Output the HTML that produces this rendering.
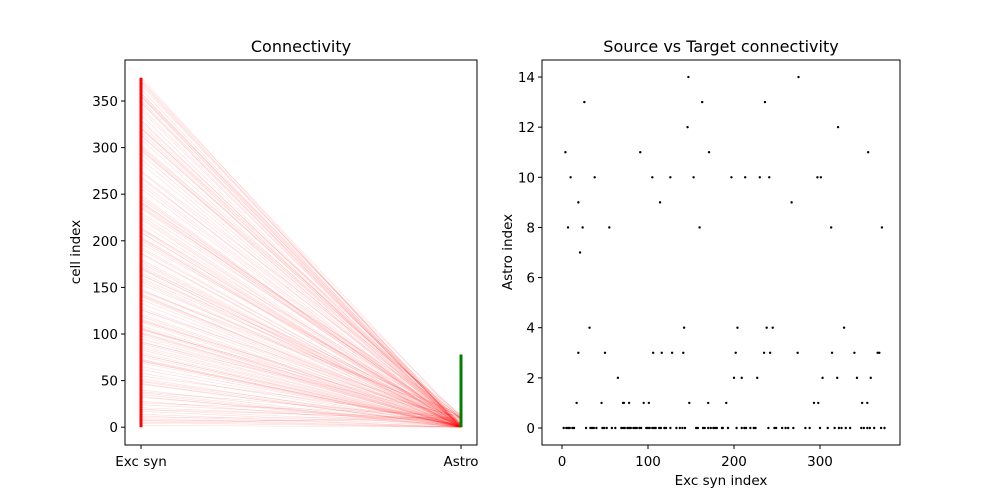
<!DOCTYPE html>
<html><head><meta charset="utf-8">
<style>
html,body{margin:0;padding:0;background:#fff;}
svg{display:block;font-family:"DejaVu Sans","Liberation Sans",sans-serif;}
</style></head>
<body>
<svg id="fig" width="1000" height="500" viewBox="0 0 1000 500">
  <g id="left"></g>
  <g id="right"></g>
</svg>
<script>
// ---- data ----
const syn0 = [2,5,7,9,12,14,28,33,35,37,40,47,49,52,58,62,69,71,73,76,78,80,83,85,87,90,92,98,100,102,105,107,109,113,115,119,121,126,133,137,140,143,156,158,164,166,170,173,176,178,180,186,187,193,203,209,212,214,219,223,225,240,247,249,256,260,263,269,283,288,300,309,317,322,325,330,335,348,351,355,358,363,371,375];
const syn1 = [17,46,71,72,78,95,101,148,170,191,293,298,349,355];
const syn2 = [65,200,209,227,303,320,343,359];
const syn3 = [19,50,106,116,128,141,202,235,242,274,314,340,367,369];
const syn4 = [32,142,204,238,245,328];
const syn7 = [21];
const syn8 = [7,24,55,160,313,372];
const syn9 = [19,114,267];
const syn10 = [10,38,105,126,153,197,213,230,241,297,301];
const syn11 = [4,91,171,356];
const syn12 = [146,321];
const syn13 = [26,163,236];
const syn14 = [147,275];
const astroLevels = [0,1,2,3,4,7,8,9,10,11,12,13,14];
const synByLevel = [syn0,syn1,syn2,syn3,syn4,syn7,syn8,syn9,syn10,syn11,syn12,syn13,syn14];
const excCount = 376;
const astroCount = 79;
const leftYTicks = [0,50,100,150,200,250,300,350];
const rightXTicks = [0,100,200,300];
const rightYTicks = [0,2,4,6,8,10,12,14];

const NS = "http://www.w3.org/2000/svg";
function mk(tag, attrs, parent){
  const e = document.createElementNS(NS, tag);
  for (const k in attrs) e.setAttribute(k, attrs[k]);
  parent.appendChild(e);
  return e;
}
// ---- left panel ----
const L = document.getElementById('left');
const ly = v => 427.2 - v * 0.932;
const xExc = 141, xAstro = 461;
const linesG = mk('g', {}, L);


astroLevels.forEach((a, i) => {
  synByLevel[i].forEach(s => {
    const ln = mk('line', {x1:xExc, y1:ly(s), x2:xAstro, y2:ly(a), stroke:'#ff0000', 'stroke-opacity':0.15, 'stroke-width':0.6}, linesG);
    
    
  });
});
const exBar = mk('line', {x1:xExc, y1:ly(0), x2:xExc, y2:ly(excCount-1), stroke:'#ff0000', 'stroke-width':3}, L);


const asBar = mk('line', {x1:xAstro, y1:ly(0), x2:xAstro, y2:ly(astroCount-1), stroke:'#008000', 'stroke-width':3}, L);


const lf = mk('rect', {x:125, y:60, width:352, height:385, fill:'none', stroke:'#000', 'stroke-width':1}, L);


leftYTicks.forEach(t => {
  const y = ly(t);
  mk('line', {x1:121, y1:y, x2:125, y2:y, stroke:'#000'}, L);
  const tx = mk('text', {x:118, y:y+5, 'text-anchor':'end', 'font-size':13.5}, L);
  tx.textContent = t;
  
  
});
[[xExc,'Exc syn'],[xAstro,'Astro']].forEach(([x,l]) => {
  mk('line', {x1:x, y1:445, x2:x, y2:449, stroke:'#000'}, L);
  const tx = mk('text', {x:x, y:466, 'text-anchor':'middle', 'font-size':13.5}, L);
  tx.textContent = l;
  
  
});
const lt = mk('text', {x:301, y:52, 'text-anchor':'middle', 'font-size':16}, L);
lt.textContent = 'Connectivity';


const lyl = mk('text', {x:0, y:0, 'text-anchor':'middle', 'font-size':13.5, transform:'translate(80,252) rotate(-90)'}, L);
lyl.textContent = 'cell index';



// ---- right panel ----
const R = document.getElementById('right');
const rx = v => 562 + v * 0.86;
const ry = v => 428 - v * 25.07;
const ptsG = mk('g', {}, R);


astroLevels.forEach((a, i) => {
  synByLevel[i].forEach(s => {
    const c = mk('circle', {cx:rx(s), cy:ry(a), r:1.2, fill:'#000'}, ptsG);
    
    
  });
});
const rf = mk('rect', {x:542, y:60, width:358, height:385, fill:'none', stroke:'#000', 'stroke-width':1}, R);


rightXTicks.forEach(t => {
  const x = rx(t);
  mk('line', {x1:x, y1:445, x2:x, y2:449, stroke:'#000'}, R);
  const tx = mk('text', {x:x, y:466, 'text-anchor':'middle', 'font-size':13.5}, R);
  tx.textContent = t;
  
  
});
rightYTicks.forEach(t => {
  const y = ry(t);
  mk('line', {x1:538, y1:y, x2:542, y2:y, stroke:'#000'}, R);
  const tx = mk('text', {x:535, y:y+5, 'text-anchor':'end', 'font-size':13.5}, R);
  tx.textContent = t;
  
  
});
const rt = mk('text', {x:721, y:52, 'text-anchor':'middle', 'font-size':16}, R);
rt.textContent = 'Source vs Target connectivity';


const rxl = mk('text', {x:721, y:485, 'text-anchor':'middle', 'font-size':13.5}, R);
rxl.textContent = 'Exc syn index';


const ryl = mk('text', {x:0, y:0, 'text-anchor':'middle', 'font-size':13.5, transform:'translate(512,252) rotate(-90)'}, R);
ryl.textContent = 'Astro index';


</script>
</body></html>
